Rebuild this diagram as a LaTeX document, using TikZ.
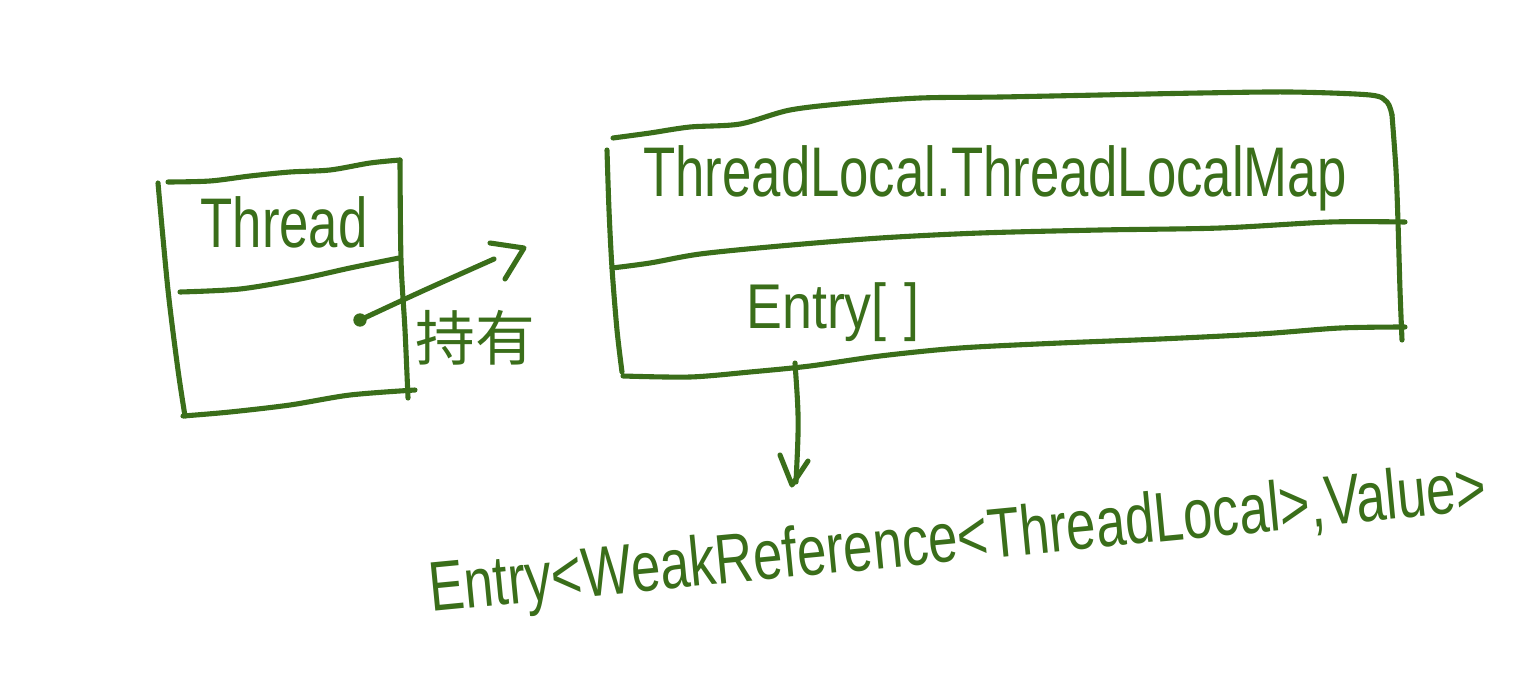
\documentclass[tikz,border=0pt]{standalone}
\usepackage{fontspec}
\setmainfont{Liberation Sans}
\newfontfamily\cjk{Noto Sans CJK SC}
\definecolor{ink}{RGB}{58,110,26}
\newcommand\narrowtext[1]{\scalebox{0.75}[1]{#1}}
\begin{document}
\begin{tikzpicture}[x=0.02cm,y=-0.02cm,
  inkline/.style={draw=ink,line width=2.9pt,line cap=round,line join=round},
  hand/.style={text=ink,inner sep=0pt,font=\fontsize{40}{48}\selectfont}]
\useasboundingbox (0,0) rectangle (1536,697);

% ---------- Thread box ----------
\draw[inkline] plot[smooth] coordinates {(168,182) (210,181) (250,176) (290,172) (330,170) (370,163) (400,160)};
\draw[inkline] plot[smooth] coordinates {(158,183) (168,290) (178,370) (185,416)};
\draw[inkline] plot[smooth] coordinates {(400,160) (401,260) (405,330) (408,398)};
\draw[inkline] plot[smooth] coordinates {(183,416) (230,412) (290,405) (350,395) (415,390)};
\draw[inkline] plot[smooth] coordinates {(180,292) (240,289) (300,279) (350,268) (399,258)};
\node[hand] (thread) at (284,222) {\narrowtext{Thread}};

% ---------- ThreadLocalMap box ----------
\draw[inkline] plot[smooth] coordinates {(613,138) (650,133) (690,127) (740,124) (790,110) (850,103) (920,98) (1000,97) (1100,95) (1200,93) (1290,92) (1370,95) (1387,102) (1392,115)};
\draw[inkline] plot[smooth] coordinates {(607,150) (609,210) (612,268) (617,330) (622,372)};
\draw[inkline] plot[smooth] coordinates {(1392,115) (1396,170) (1398,222) (1400,290) (1402,340)};
\draw[inkline] plot[smooth] coordinates {(623,376) (690,377) (750,372) (810,366) (880,356) (960,348) (1060,343) (1160,339) (1260,334) (1340,328) (1405,327)};
\draw[inkline] plot[smooth] coordinates {(612,268) (650,263) (700,254) (780,246) (880,238) (980,233) (1100,230) (1220,228) (1330,222) (1405,222)};
\node[hand] (map) at (995,178) {\narrowtext{ThreadLocal.ThreadLocalMap}};
\node[hand,font=\fontsize{36}{44}\selectfont] (entries) at (833,312) {\scalebox{0.85}[1]{Entry[\,\,]}};

% ---------- holds arrow ----------
\coordinate (dot) at (360,320);
\coordinate (holdtip) at (494,259);
\coordinate (headA) at (490,243);
\coordinate (headB) at (524,248);
\coordinate (headC) at (505,279);
\fill[ink] (dot) circle[radius=3.8pt];
\draw[inkline] (dot) .. controls (420,292) .. (holdtip);
\draw[inkline] (headA) -- (headB) -- (headC);
\node[hand,font=\cjk\fontsize{34}{40}\selectfont] (hold) at (475,338) {持有};

% ---------- Entry arrow ----------
\node[hand] (entry) at (958,543) {\rotatebox{5.5}{\narrowtext{Entry<WeakReference<ThreadLocal>,Value>}}};
\coordinate (entriesout) at (795,363);
\coordinate (downtip) at (796,482);
\coordinate (downA) at (780,455);
\coordinate (downB) at (792,485);
\coordinate (downC) at (808,461);
\draw[inkline] (entriesout) .. controls (799,420) .. (downtip);
\draw[inkline] (downA) -- (downB) -- (downC);
\end{tikzpicture}
\end{document}
